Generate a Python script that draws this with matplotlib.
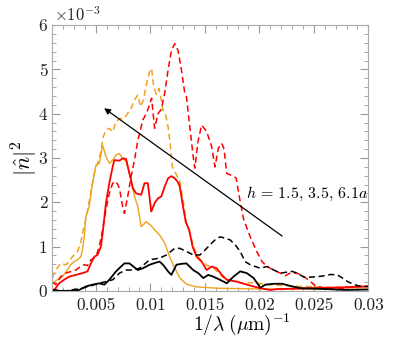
import matplotlib
matplotlib.use('Agg')
import matplotlib.pyplot as plt
from matplotlib.ticker import MultipleLocator, FuncFormatter

plt.rcParams['font.family'] = 'serif'
plt.rcParams['font.serif'] = ['cmr10', 'DejaVu Serif']
plt.rcParams['mathtext.fontset'] = 'cm'
plt.rcParams['axes.formatter.use_mathtext'] = True

# |n|^2 in units of 1e-3 against 1/lambda (um^-1)
x_orange_solid = [0.00100, 0.00146, 0.00192, 0.00238, 0.00269, 0.00300, 0.00331, 0.00361, 0.00377,
                  0.00392, 0.00408, 0.00438, 0.00469, 0.00500, 0.00531, 0.00562, 0.00592, 0.00623,
                  0.00654, 0.00685, 0.00716, 0.00746, 0.00777, 0.00823, 0.00854, 0.00885, 0.00916,
                  0.00962, 0.01008, 0.01039, 0.01085, 0.01131, 0.01177, 0.01224, 0.01270, 0.01331,
                  0.01424, 0.01608, 0.02070, 0.02686, 0.03000]
y_orange_solid = [0.17, 0.25, 0.32, 0.47, 0.59, 0.66, 0.70, 0.77, 0.92,
                  1.20, 1.68, 1.90, 2.43, 2.84, 2.88, 3.29, 3.03, 2.88,
                  2.95, 3.07, 3.10, 2.99, 2.92, 2.50, 2.13, 1.90, 1.45,
                  1.56, 1.47, 1.38, 1.26, 1.08, 0.77, 0.51, 0.29, 0.15,
                  0.09, 0.06, 0.04, 0.04, 0.04]

x_orange_dash = [0.00100, 0.00131, 0.00177, 0.00223, 0.00254, 0.00284, 0.00331, 0.00361, 0.00377,
                 0.00414, 0.00438, 0.00485, 0.00515, 0.00546, 0.00568, 0.00592, 0.00623, 0.00654,
                 0.00685, 0.00722, 0.00762, 0.00792, 0.00823, 0.00854, 0.00885, 0.00909, 0.00937,
                 0.00962, 0.00993, 0.01011, 0.01030, 0.01054, 0.01079, 0.01100, 0.01116, 0.01140,
                 0.01162, 0.01184, 0.01202, 0.01233, 0.01270, 0.01300, 0.01331, 0.01362, 0.01408,
                 0.01454, 0.01516, 0.01578, 0.01670, 0.01762, 0.01855, 0.01947, 0.02070, 0.02378,
                 0.02686, 0.03000]
y_orange_dash = [0.29, 0.47, 0.62, 0.59, 0.66, 0.77, 0.89, 1.08, 1.30,
                 1.68, 2.02, 2.65, 2.88, 3.14, 3.48, 3.63, 3.67, 3.59,
                 3.82, 3.89, 3.89, 4.01, 4.12, 4.31, 4.42, 4.16, 4.31,
                 4.65, 4.95, 5.02, 4.61, 4.44, 4.57, 4.31, 4.08, 3.97,
                 3.71, 3.26, 2.80, 2.65, 2.47, 2.05, 1.53, 1.30, 0.92,
                 0.72, 0.58, 0.52, 0.30, 0.21, 0.17, 0.19, 0.14, 0.10,
                 0.08, 0.10]

x_red_solid = [0.00100, 0.00131, 0.00161, 0.00208, 0.00254, 0.00315, 0.00377, 0.00423, 0.00454,
               0.00485, 0.00515, 0.00546, 0.00562, 0.00592, 0.00623, 0.00654, 0.00669, 0.00716,
               0.00746, 0.00777, 0.00808, 0.00839, 0.00869, 0.00916, 0.00946, 0.00977, 0.01008,
               0.01039, 0.01070, 0.01100, 0.01131, 0.01162, 0.01193, 0.01224, 0.01254, 0.01270,
               0.01300, 0.01325, 0.01356, 0.01387, 0.01424, 0.01470, 0.01516, 0.01562, 0.01608,
               0.01655, 0.01701, 0.01793, 0.01885, 0.02009, 0.02101, 0.02163, 0.02317, 0.02470,
               0.02778, 0.03000]
y_red_solid = [0.00, 0.06, 0.17, 0.25, 0.32, 0.36, 0.40, 0.44, 0.62,
               0.77, 0.81, 1.00, 1.30, 1.98, 2.43, 2.80, 2.95, 2.94,
               2.99, 2.98, 2.65, 2.32, 2.20, 2.17, 2.43, 2.43, 1.79,
               1.98, 2.09, 2.13, 2.35, 2.54, 2.59, 2.54, 2.45, 2.35,
               1.90, 1.55, 1.38, 1.00, 0.77, 0.66, 0.47, 0.55, 0.51,
               0.36, 0.25, 0.21, 0.14, 0.06, 0.02, 0.04, 0.05, 0.06,
               0.08, 0.10]

x_red_dash = [0.00100, 0.00131, 0.00177, 0.00223, 0.00315, 0.00361, 0.00392, 0.00423, 0.00454,
              0.00500, 0.00531, 0.00562, 0.00592, 0.00623, 0.00654, 0.00685, 0.00716, 0.00746,
              0.00762, 0.00792, 0.00823, 0.00854, 0.00885, 0.00931, 0.00962, 0.00993, 0.01011,
              0.01039, 0.01070, 0.01100, 0.01131, 0.01162, 0.01193, 0.01224, 0.01254, 0.01285,
              0.01316, 0.01331, 0.01362, 0.01393, 0.01408, 0.01439, 0.01470, 0.01516, 0.01562,
              0.01593, 0.01624, 0.01655, 0.01676, 0.01701, 0.01732, 0.01787, 0.01818, 0.01855,
              0.01916, 0.01978, 0.02024, 0.02070, 0.02132, 0.02193, 0.02240, 0.02286, 0.02347,
              0.02409, 0.02470, 0.02517, 0.02624, 0.02778, 0.02871, 0.03000]
y_red_dash = [0.20, 0.14, 0.32, 0.40, 0.47, 0.55, 0.59, 0.57, 0.70,
              0.77, 1.00, 1.38, 1.83, 2.20, 2.43, 2.47, 2.32, 1.90,
              1.75, 2.13, 2.58, 2.95, 3.40, 3.86, 4.00, 4.20, 4.35,
              3.67, 4.00, 4.10, 4.46, 4.98, 5.43, 5.58, 5.43, 4.98,
              4.46, 4.38, 3.70, 3.03, 2.77, 3.40, 3.74, 3.60, 3.26,
              2.80, 3.22, 3.33, 3.20, 2.65, 2.62, 2.55, 2.10, 1.62,
              1.22, 0.88, 0.66, 0.55, 0.47, 0.40, 0.34, 0.41, 0.40,
              0.32, 0.21, 0.10, 0.06, 0.06, 0.10, 0.10]

x_black_solid = [0.00100, 0.00161, 0.00254, 0.00346, 0.00408, 0.00469, 0.00531, 0.00577, 0.00623,
                 0.00685, 0.00731, 0.00762, 0.00808, 0.00839, 0.00885, 0.00931, 0.00993, 0.01054,
                 0.01085, 0.01116, 0.01162, 0.01193, 0.01239, 0.01285, 0.01331, 0.01393, 0.01439,
                 0.01485, 0.01531, 0.01578, 0.01639, 0.01701, 0.01762, 0.01824, 0.01885, 0.01947,
                 0.02009, 0.02055, 0.02132, 0.02209, 0.02286, 0.02378, 0.02624, 0.02778, 0.03000]
y_black_solid = [0.02, 0.00, 0.00, 0.02, 0.10, 0.14, 0.17, 0.14, 0.25,
                 0.44, 0.55, 0.62, 0.62, 0.56, 0.47, 0.51, 0.59, 0.64,
                 0.66, 0.59, 0.44, 0.36, 0.59, 0.61, 0.62, 0.47, 0.40,
                 0.29, 0.36, 0.32, 0.25, 0.17, 0.32, 0.44, 0.40, 0.29,
                 0.07, 0.14, 0.16, 0.16, 0.11, 0.06, 0.04, 0.02, 0.03]

x_black_dash = [0.00100, 0.00223, 0.00377, 0.00531, 0.00654, 0.00716, 0.00777, 0.00839, 0.00900,
                0.00993, 0.01085, 0.01147, 0.01224, 0.01270, 0.01331, 0.01393, 0.01454, 0.01501,
                0.01547, 0.01593, 0.01639, 0.01685, 0.01732, 0.01778, 0.01824, 0.01870, 0.01916,
                0.01962, 0.02009, 0.02070, 0.02132, 0.02193, 0.02301, 0.02347, 0.02409, 0.02470,
                0.02532, 0.02594, 0.02655, 0.02717, 0.02763, 0.02809, 0.02871, 0.02932, 0.03000]
y_black_dash = [0.02, 0.00, 0.06, 0.17, 0.25, 0.40, 0.47, 0.47, 0.51,
                0.70, 0.74, 0.81, 0.96, 0.96, 0.89, 0.81, 0.81, 0.92,
                1.04, 1.15, 1.22, 1.19, 1.15, 1.04, 0.89, 0.66, 0.59,
                0.55, 0.51, 0.55, 0.47, 0.40, 0.44, 0.40, 0.31, 0.31,
                0.32, 0.34, 0.37, 0.36, 0.29, 0.21, 0.14, 0.10, 0.10]

x_ticks = [0.005, 0.01, 0.015, 0.02, 0.025, 0.03]
y_ticks = [0, 1, 2, 3, 4, 5, 6]

orange = '#f0a21c'
red = '#ff0000'
dash = (0, (4.0, 2.4))

fig = plt.figure(figsize=(4.07, 3.39), dpi=100)
ax = fig.add_axes([0.1285, 0.142, 0.7765, 0.784])

ax.plot(x_orange_solid, y_orange_solid, color=orange, lw=1.0)
ax.plot(x_orange_dash, y_orange_dash, color=orange, lw=1.1, linestyle=dash)
ax.plot(x_red_solid, y_red_solid, color=red, lw=1.3)
ax.plot(x_red_dash, y_red_dash, color=red, lw=1.1, linestyle=dash)
ax.plot(x_black_solid, y_black_solid, color='k', lw=1.3)
ax.plot(x_black_dash, y_black_dash, color='k', lw=1.1, linestyle=dash)

ax.annotate('', xy=(0.00555, 4.16), xytext=(0.0223, 1.2),
            arrowprops=dict(arrowstyle='-|>', color='k', lw=0.9, mutation_scale=9))
ax.text(0.0188, 2.18, r'$h\,=\,1.5,\,3.5,\,6.1a$', fontsize=11.5, va='center', ha='left')

ax.set_xlim(0.001, 0.03)
ax.set_ylim(0, 6)
ax.xaxis.set_major_locator(MultipleLocator(0.005))
ax.xaxis.set_minor_locator(MultipleLocator(0.001))
ax.yaxis.set_major_locator(MultipleLocator(1))
ax.yaxis.set_minor_locator(MultipleLocator(0.2))
ax.set_xticks(x_ticks)
ax.set_yticks(y_ticks)
ax.xaxis.set_major_formatter(FuncFormatter(lambda v, p: '%g' % v))
ax.yaxis.set_major_formatter(FuncFormatter(lambda v, p: '%d' % v))

ax.tick_params(which='both', direction='in', top=True, right=True, color='#999999',
               labelsize=12.5, labelcolor='#222222')
ax.tick_params(which='major', length=6, width=0.8)
ax.tick_params(which='minor', length=3, width=0.6)
ax.tick_params(axis='x', pad=5)
for s in ax.spines.values():
    s.set_color('#aaaaaa')
    s.set_linewidth(0.8)

ax.text(0.005, 1.005, r'$\times 10^{-3}$', transform=ax.transAxes, fontsize=12,
        color='#222222', ha='left', va='bottom')
ax.set_xlabel(r'$1/\lambda\;(\mu\mathrm{m})^{-1}$', fontsize=14)
ax.xaxis.set_label_coords(0.6, -0.079)
ax.set_ylabel(r'$|\hat{n}|^2$', fontsize=16, labelpad=-1)

fig.savefig('out.png', dpi=100)
